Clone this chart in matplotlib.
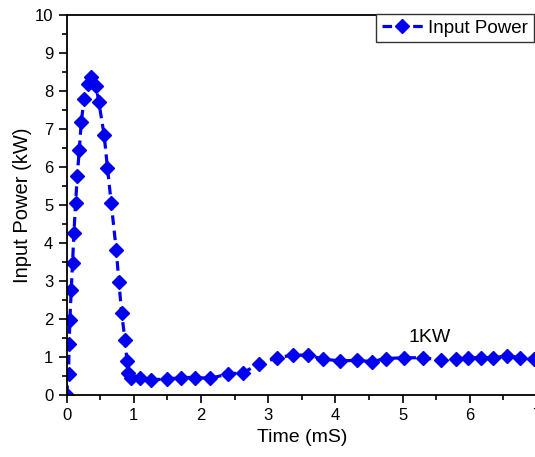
import matplotlib
matplotlib.use("Agg")
import matplotlib.pyplot as plt
from matplotlib.ticker import MultipleLocator

plt.rcParams["font.family"] = ["Liberation Sans", "DejaVu Sans"]

# time in mS, power in kW
time_ms = [0.00, 0.03, 0.04, 0.05, 0.07, 0.09, 0.11, 0.135, 0.16, 0.19,
           0.22, 0.26, 0.32, 0.36, 0.44, 0.48, 0.56, 0.61, 0.665, 0.74,
           0.78, 0.82, 0.87, 0.90, 0.92, 0.96, 1.09, 1.25, 1.50, 1.71,
           1.91, 2.14, 2.40, 2.63, 2.86, 3.13, 3.37, 3.60, 3.82, 4.07,
           4.32, 4.54, 4.76, 5.02, 5.30, 5.57, 5.79, 5.97, 6.16, 6.35,
           6.55, 6.75, 6.95]
power_kw = [0.00, 0.55, 1.34, 1.97, 2.76, 3.47, 4.26, 5.05, 5.75, 6.46,
            7.18, 7.78, 8.18, 8.36, 8.13, 7.72, 6.84, 5.97, 5.05, 3.82,
            2.97, 2.16, 1.45, 0.90, 0.58, 0.45, 0.45, 0.40, 0.42, 0.46,
            0.46, 0.44, 0.55, 0.59, 0.81, 0.98, 1.05, 1.05, 0.94, 0.90,
            0.91, 0.88, 0.96, 0.98, 0.98, 0.92, 0.96, 0.98, 0.98, 0.98,
            1.03, 0.98, 0.96]

fig = plt.figure(figsize=(5.35, 4.57), dpi=100)
ax = fig.add_axes([0.1243, 0.1357, 0.8794, 0.8315])

ax.plot(time_ms, power_kw, color="#0000ee", linestyle="--", dashes=(3, 1.8),
        linewidth=2.3, marker="D", markersize=7.5, label="Input Power")

ax.text(5.41, 1.5, "1KW", fontsize=14, ha="center", va="center")

ax.set_xlim(0, 7)
ax.set_ylim(0, 10)
ax.xaxis.set_major_locator(MultipleLocator(1))
ax.xaxis.set_minor_locator(MultipleLocator(0.5))
ax.yaxis.set_major_locator(MultipleLocator(1))
ax.yaxis.set_minor_locator(MultipleLocator(0.5))
ax.tick_params(which="major", direction="out", length=6, width=1.2, labelsize=12)
ax.tick_params(which="minor", direction="out", length=3.5, width=1.2)
for s in ax.spines.values():
    s.set_linewidth(1.3)

ax.set_xlabel("Time (mS)", fontsize=14, labelpad=4)
ax.set_ylabel("Input Power (kW)", fontsize=14.5, labelpad=2)

leg = ax.legend(loc="upper left", bbox_to_anchor=(376 / 535, 1 - 14 / 457),
                bbox_transform=fig.transFigure, borderaxespad=0, fontsize=13.5,
                fancybox=False, framealpha=1, edgecolor="#333333",
                handlelength=2.2, handletextpad=0.3, borderpad=0.3, numpoints=1)
leg.get_frame().set_linewidth(1.0)

fig.savefig("out.png", dpi=100)
